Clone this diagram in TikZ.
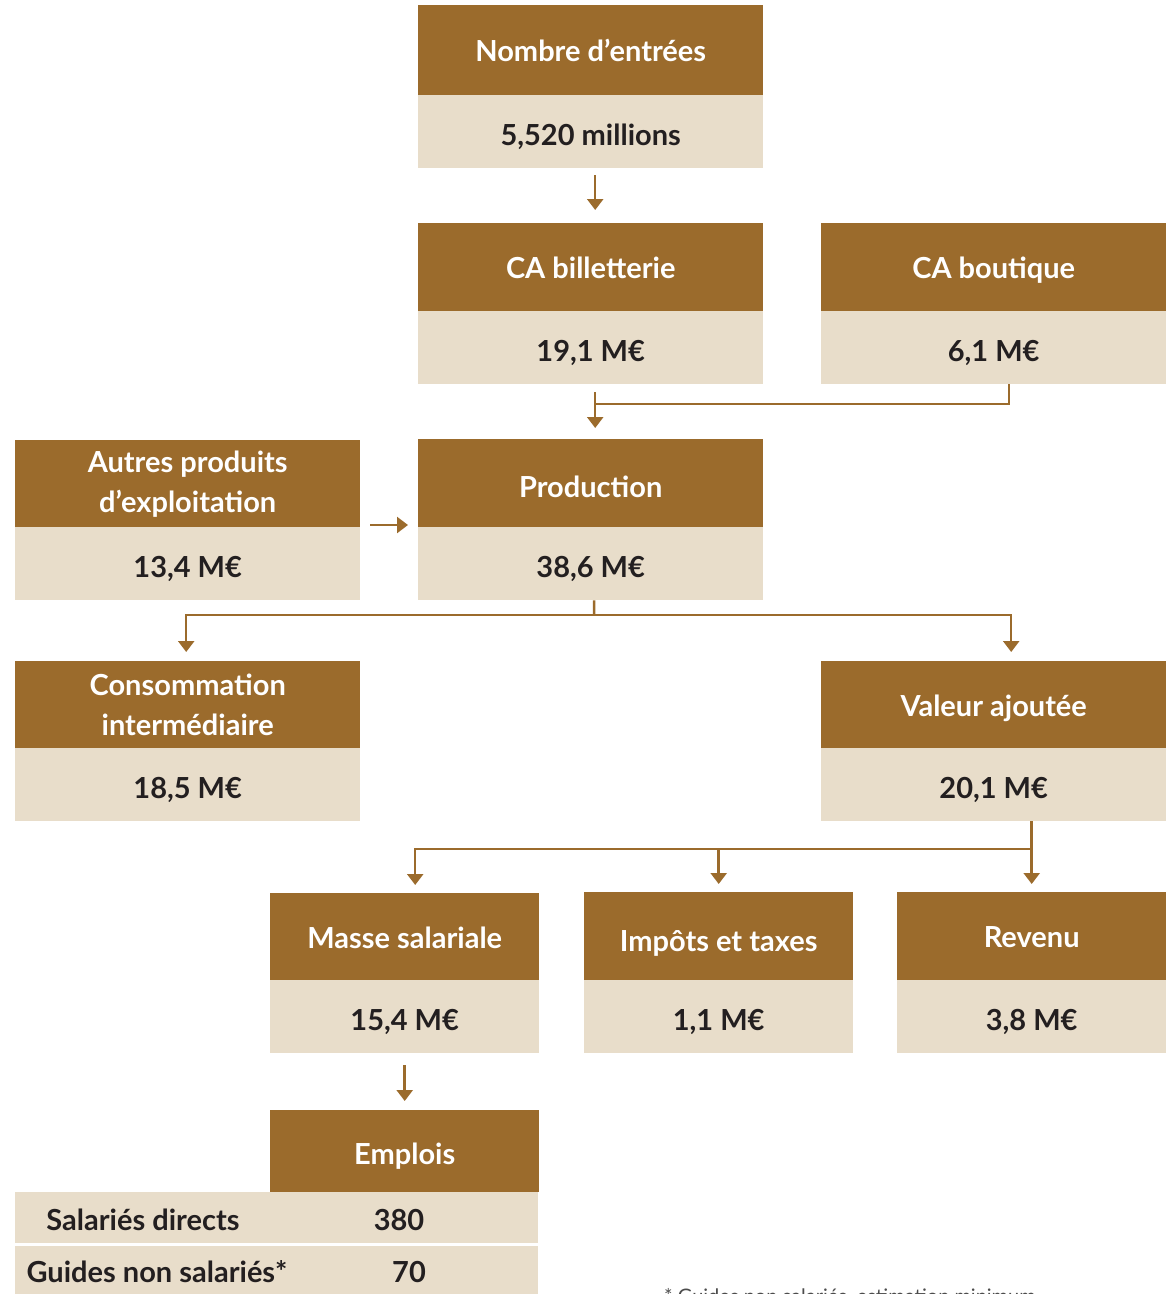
\documentclass[tikz,border=0pt]{standalone}
\usepackage{fontspec}
\setmainfont{Lato}
\usetikzlibrary{arrows.meta,calc}
\definecolor{hdrc}{HTML}{9B6B2C}
\definecolor{valc}{HTML}{E8DDCA}
\definecolor{txtc}{HTML}{231F20}
\tikzset{
  hdr/.style={fill=hdrc, text=white, anchor=north west, inner sep=0pt, minimum width=#1, minimum height=88pt, align=center, font=\fontsize{29}{40}\selectfont\bfseries},
  hdr/.default=345pt,
  one/.style={text height=26pt, text depth=3pt},
  val/.style={fill=valc, text=txtc, anchor=north west, inner sep=0pt, minimum width=#1, minimum height=73pt, align=center, text height=30pt, text depth=2pt, font=\fontsize{29}{40}\selectfont\bfseries},
  val/.default=345pt,
  ln/.style={draw=hdrc, line width=2.5pt},
  arr/.style={ln, -{Triangle[width=16pt,length=11pt]}},
  celltxt/.style={text=txtc, font=\fontsize{29}{32}\selectfont\bfseries, inner sep=0pt}
}
\begin{document}
\begin{tikzpicture}[x=1pt,y=-1pt]
\useasboundingbox (0,0) rectangle (1173,1294);
% top
\node[hdr, one, minimum height=90pt] (nh) at (418,5) {Nombre d’entrées};
\node[val] (nv) at (418,95) {5,520 millions};
% CA
\node[hdr, one] (ch) at (418,223) {CA billetterie};
\node[val] (cv) at (418,311) {19,1 M€};
\node[hdr, one] (bh) at (821,223) {CA boutique};
\node[val] (bv) at (821,311) {6,1 M€};
% Production row
\node[hdr, minimum height=87pt] (ah) at (15,440) {Autres produits\\d’exploitation};
\node[val] (av) at (15,527) {13,4 M€};
\node[hdr, text height=29pt, text depth=0pt] (ph) at (418,439) {Production};
\node[val] (pv) at (418,527) {38,6 M€};
% CI / VA
\node[hdr, minimum height=87pt] (ih0) at (15,661) {Consommation\\intermédiaire};
\node[val] (iv0) at (15,748) {18,5 M€};
\node[hdr, one, minimum height=87pt] (vh) at (821,661) {Valeur ajoutée};
\node[val] (vv) at (821,748) {20,1 M€};
% bottom row
\node[hdr=269pt, one, minimum height=87pt] (mh) at (270,893) {Masse salariale};
\node[val=269pt] (mv) at (270,980) {15,4 M€};
\node[hdr=269pt, text height=30pt, text depth=0pt] (th) at (584,892) {Impôts et taxes};
\node[val=269pt] (tv) at (584,980) {1,1 M€};
\node[hdr=269pt, one] (rh) at (897,892) {Revenu};
\node[val=269pt] (rv) at (897,980) {3,8 M€};
% Emplois
\node[hdr=269pt, text height=28pt, text depth=2pt, minimum height=82pt] (eh) at (270,1110) {Emplois};
\node[fill=valc, anchor=north west, inner sep=0pt, minimum width=523pt, minimum height=51pt] (r1) at (15,1192) {};
\node[fill=valc, anchor=north west, inner sep=0pt, minimum width=523pt, minimum height=52pt] (r2) at (15,1246) {};
\node[celltxt] (r1a) at (143,1220) {Salariés directs};
\node[celltxt] (r1b) at (399,1220) {380};
\node[celltxt] (r2a) at (157,1272) {Guides non salariés*};
\node[celltxt] (r2b) at (409,1272) {70};
% footnote (cut off by page edge, as in the reference)
\node[anchor=base west, inner sep=0pt, text=black!70, font=\fontsize{20}{22}\selectfont] (fn) at (664,1303) {* Guides non salariés, estimation minimum};
% connectors
\draw[arr] ([xshift=4.5pt,yshift=-7pt]nv.south) -- ([xshift=4.5pt,yshift=13pt]ch.north);
\coordinate (j1) at (595,404);
\draw[ln] ([xshift=15.5pt]bv.south) |- (j1);
\draw[arr] ([xshift=4.5pt,yshift=-8pt]cv.south) -- ([xshift=4.5pt,yshift=11pt]ph.north);
\draw[arr] ([xshift=10pt,yshift=2pt]av.north east) -- ([xshift=-10pt,yshift=2pt]pv.north west);
\coordinate (j2) at (594,615);
\draw[ln] ([xshift=3.5pt]pv.south) -- (j2);
\draw[arr] (j2) -| ([xshift=-1.5pt,yshift=9pt]ih0.north);
\draw[arr] (j2) -| ([xshift=17.5pt,yshift=9pt]vh.north);
\draw[arr] (vv.south -| rh.north) -- ([yshift=8pt]rh.north);
\coordinate (j3) at (1032,849);
\draw[arr] (j3) -| ([xshift=10.5pt,yshift=8pt]mh.north);
\draw[arr] (j3 -| th.north) -- ([yshift=8pt]th.north);
\draw[arr] ([yshift=-12pt]mv.south) -- ([yshift=9pt]eh.north);
\end{tikzpicture}
\end{document}
